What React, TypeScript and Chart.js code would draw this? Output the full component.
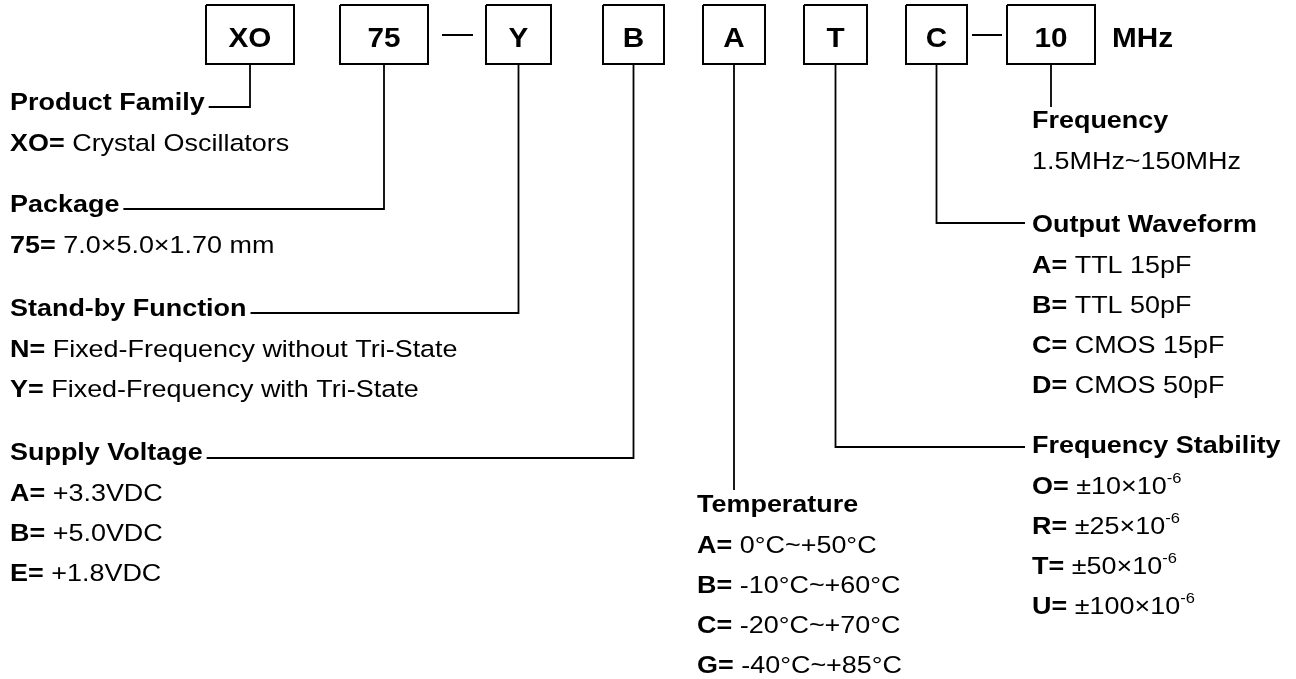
import React, { useEffect, useRef } from 'react';
import { Chart, registerables } from 'chart.js';

Chart.register(...registerables);

// ---------- content ----------
const codes = ['XO', '75', 'Y', 'B', 'A', 'T', 'C', '10'];
const unitLabel = 'MHz';
const headings = [
  'Product Family',
  'Package',
  'Stand-by Function',
  'Supply Voltage',
  'Temperature',
  'Frequency Stability',
  'Output Waveform',
  'Frequency',
];
const familyOptions = [['XO=', 'Crystal Oscillators']];
const packageOptions = [['75=', '7.0×5.0×1.70 mm']];
const standbyOptions = [
  ['N=', 'Fixed-Frequency without Tri-State'],
  ['Y=', 'Fixed-Frequency with Tri-State'],
];
const voltageOptions = [
  ['A=', '+3.3VDC'],
  ['B=', '+5.0VDC'],
  ['E=', '+1.8VDC'],
];
const temperatureOptions = [
  ['A=', '0°C~+50°C'],
  ['B=', '-10°C~+60°C'],
  ['C=', '-20°C~+70°C'],
  ['G=', '-40°C~+85°C'],
];
const stabilityOptions = [
  ['O=', '±10×10', '-6'],
  ['R=', '±25×10', '-6'],
  ['T=', '±50×10', '-6'],
  ['U=', '±100×10', '-6'],
];
const waveformOptions = [
  ['A=', 'TTL 15pF'],
  ['B=', 'TTL 50pF'],
  ['C=', 'CMOS 15pF'],
  ['D=', 'CMOS 50pF'],
];
const frequencyOptions = [['', '1.5MHz~150MHz']];
const sectionOptions = [
  familyOptions,
  packageOptions,
  standbyOptions,
  voltageOptions,
  temperatureOptions,
  stabilityOptions,
  waveformOptions,
  frequencyOptions,
];

// ---------- layout ----------
const W = 1296;
const H = 679;
const SX = 1.1;
const FONT = '"Liberation Sans", Arial, sans-serif';
const LABEL_SIZE = 24.5;
const CODE_SIZE = 27;
const SUP_SIZE = 15;
const boxLeft = [206, 340, 486, 603, 703, 804, 906, 1007];
const boxRight = [294, 428, 551, 664, 765, 867, 967, 1095];
const boxTop = 5;
const boxBottom = 64;
const codeBaseline = 47;
const unitX = 1112;
const dashes = [
  [442, 473],
  [972, 1002],
];
const dashY = 35;
// per section: code index, text x, heading baseline, connector y, side
const secX = [10, 10, 10, 10, 697, 1032, 1032, 1032];
const secBase = [110, 212, 316, 460, 512, 453, 232, 128];
const secLineY = [107, 209, 313, 458, 490, 447, 223, 107];
const secSide = ['left', 'left', 'left', 'left', 'down', 'right', 'right', 'down'];
const rowFirst = 41;
const rowStep = 40;

function fontOf(bold: boolean, size: number) {
  return `${bold ? 'bold ' : ''}${size}px ${FONT}`;
}

function textWidth(ctx: CanvasRenderingContext2D, t: string, bold: boolean, size: number) {
  ctx.font = fontOf(bold, size);
  return ctx.measureText(t).width * SX;
}

type Part = { t: string; bold?: boolean; size: number; dy?: number };

function drawRich(ctx: CanvasRenderingContext2D, x: number, y: number, parts: Part[]) {
  let cx = x;
  for (const p of parts) {
    if (!p.t) continue;
    ctx.font = fontOf(!!p.bold, p.size);
    ctx.save();
    ctx.translate(cx, y + (p.dy || 0));
    ctx.scale(SX, 1);
    ctx.fillText(p.t, 0, 0);
    ctx.restore();
    cx += ctx.measureText(p.t).width * SX;
  }
  return cx;
}

const center = (i: number) => (boxLeft[i] + boxRight[i]) / 2;

export default function App() {
  const ref = useRef<HTMLCanvasElement | null>(null);

  useEffect(() => {
    const canvas = ref.current;
    if (!canvas) return;
    const mctx = document.createElement('canvas').getContext('2d') as CanvasRenderingContext2D;

    const lineStyle = {
      showLine: true,
      borderColor: '#000',
      backgroundColor: '#000',
      pointRadius: 0,
      pointHoverRadius: 0,
      fill: false,
      tension: 0,
      clip: false as any,
      borderJoinStyle: 'miter' as const,
      borderCapStyle: 'butt' as const,
    };

    const datasets: any[] = [];
    // boxes
    codes.forEach((_, i) => {
      datasets.push({
        ...lineStyle,
        borderWidth: 2,
        data: [
          { x: boxLeft[i], y: boxTop },
          { x: boxRight[i], y: boxTop },
          { x: boxRight[i], y: boxBottom },
          { x: boxLeft[i], y: boxBottom },
          { x: boxLeft[i], y: boxTop },
        ],
      });
    });
    // dashes
    dashes.forEach(([a, b]) => {
      datasets.push({
        ...lineStyle,
        borderWidth: 2,
        data: [
          { x: a, y: dashY },
          { x: b, y: dashY },
        ],
      });
    });
    // connectors
    headings.forEach((h, i) => {
      const cx = center(i);
      const pts: { x: number; y: number }[] = [{ x: cx, y: boxBottom }, { x: cx, y: secLineY[i] }];
      if (secSide[i] === 'left') {
        const end = secX[i] + textWidth(mctx, h, true, LABEL_SIZE) + 4;
        pts.push({ x: end, y: secLineY[i] });
      } else if (secSide[i] === 'right') {
        pts.push({ x: secX[i] - 7, y: secLineY[i] });
      }
      datasets.push({ ...lineStyle, borderWidth: 1.8, data: pts });
    });

    const textPlugin = {
      id: 'diagramText',
      afterDatasetsDraw(chart: any) {
        const ctx: CanvasRenderingContext2D = chart.ctx;
        const xs = chart.scales.x;
        const ys = chart.scales.y;
        ctx.save();
        ctx.fillStyle = '#000';
        ctx.textBaseline = 'alphabetic';
        ctx.textAlign = 'left';
        // codes in boxes
        codes.forEach((c, i) => {
          const w = textWidth(ctx, c, true, CODE_SIZE);
          drawRich(ctx, xs.getPixelForValue(center(i)) - w / 2, ys.getPixelForValue(codeBaseline), [
            { t: c, bold: true, size: CODE_SIZE },
          ]);
        });
        drawRich(ctx, xs.getPixelForValue(unitX), ys.getPixelForValue(codeBaseline), [
          { t: unitLabel, bold: true, size: CODE_SIZE },
        ]);
        // sections
        headings.forEach((h, i) => {
          const x = xs.getPixelForValue(secX[i]);
          drawRich(ctx, x, ys.getPixelForValue(secBase[i]), [{ t: h, bold: true, size: LABEL_SIZE }]);
          sectionOptions[i].forEach((opt, r) => {
            const y = ys.getPixelForValue(secBase[i] + rowFirst + r * rowStep);
            const parts: Part[] = [];
            if (opt[0]) parts.push({ t: opt[0] + ' ', bold: true, size: LABEL_SIZE });
            parts.push({ t: opt[1], size: LABEL_SIZE });
            if (opt[2]) parts.push({ t: opt[2], size: SUP_SIZE, dy: -11 });
            drawRich(ctx, x, y, parts);
          });
        });
        ctx.restore();
      },
    };

    const chart = new Chart(canvas, {
      type: 'scatter',
      data: { datasets },
      options: {
        animation: false,
        responsive: false,
        maintainAspectRatio: false,
        events: [],
        layout: { padding: 0 },
        plugins: { legend: { display: false }, tooltip: { enabled: false } },
        scales: {
          x: { type: 'linear', min: 0, max: W, display: false },
          y: { type: 'linear', min: 0, max: H, reverse: true, display: false },
        },
      },
      plugins: [textPlugin],
    });
    return () => chart.destroy();
  }, []);

  return (
    <div style={{ position: 'fixed', left: 0, top: 0, width: W, height: H, background: '#fff' }}>
      <canvas ref={ref} width={W} height={H} style={{ width: W, height: H, display: 'block' }} />
    </div>
  );
}
